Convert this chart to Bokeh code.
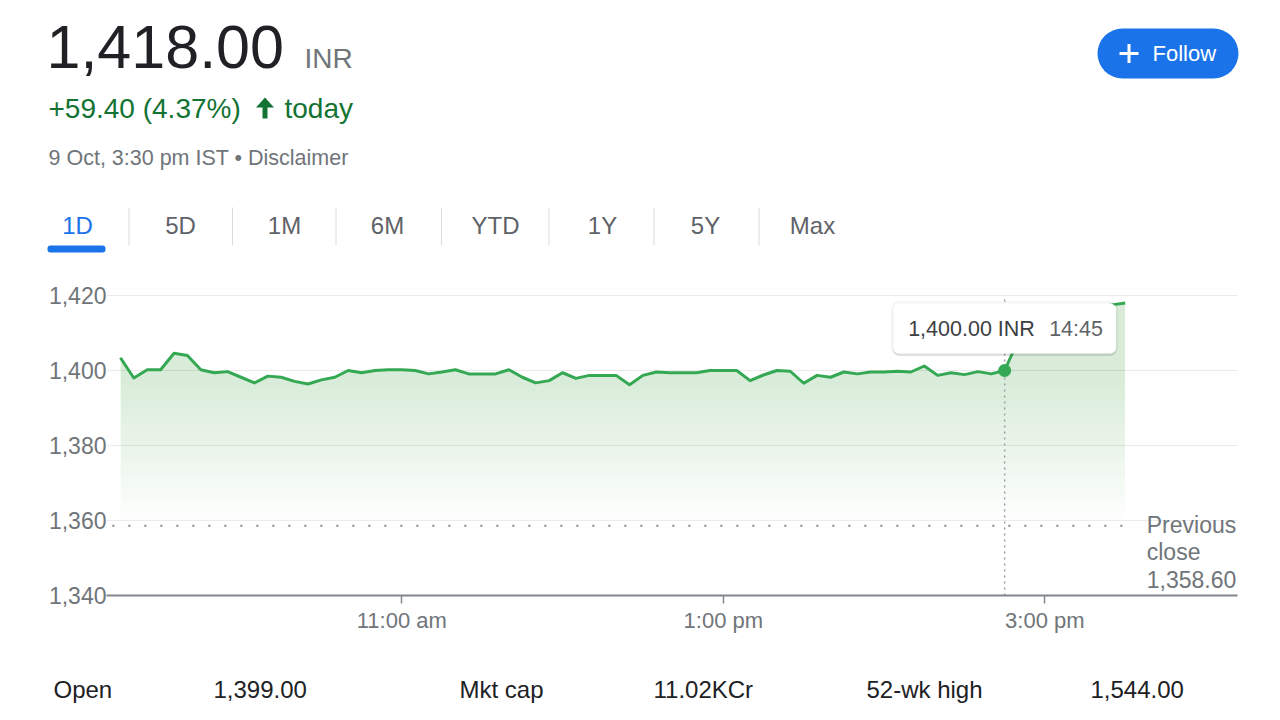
from bokeh.plotting import figure
from bokeh.layouts import column
from bokeh.models import Range1d, FixedTicker, NumeralTickFormatter, ColumnDataSource
from bokeh.embed import file_html
from bokeh.resources import INLINE
from bokeh.core.properties import value

# ---------------- data ----------------
times = [
    "09:15", "09:20", "09:25", "09:30", "09:35", "09:40", "09:45", "09:50", "09:55",
    "10:00", "10:05", "10:10", "10:15", "10:20", "10:25", "10:30", "10:35", "10:40", "10:45", "10:50", "10:55",
    "11:00", "11:05", "11:10", "11:15", "11:20", "11:25", "11:30", "11:35", "11:40", "11:45", "11:50", "11:55",
    "12:00", "12:05", "12:10", "12:15", "12:20", "12:25", "12:30", "12:35", "12:40", "12:45", "12:50", "12:55",
    "13:00", "13:05", "13:10", "13:15", "13:20", "13:25", "13:30", "13:35", "13:40", "13:45", "13:50", "13:55",
    "14:00", "14:05", "14:10", "14:15", "14:20", "14:25", "14:30", "14:35", "14:40", "14:45", "14:50", "14:55",
    "15:00", "15:05", "15:10", "15:15", "15:20", "15:25", "15:30",
]
prices = [
    1403.4, 1398.0, 1400.2, 1400.2, 1404.6, 1404.0, 1400.2, 1399.4, 1399.7,
    1398.2, 1396.7, 1398.5, 1398.2, 1397.1, 1396.4, 1397.5, 1398.2, 1400.0, 1399.4, 1400.0, 1400.2,
    1400.2, 1400.0, 1399.1, 1399.6, 1400.2, 1399.1, 1399.1, 1399.1, 1400.2, 1398.2, 1396.7, 1397.3,
    1399.4, 1397.9, 1398.7, 1398.7, 1398.7, 1396.2, 1398.7, 1399.6, 1399.4, 1399.4, 1399.4, 1400.0,
    1400.0, 1400.0, 1397.3, 1398.8, 1400.0, 1399.8, 1396.6, 1398.7, 1398.2, 1399.6, 1399.1, 1399.6,
    1399.6, 1399.8, 1399.6, 1401.2, 1398.7, 1399.4, 1398.9, 1399.7, 1399.1, 1400.0, 1408.0, 1412.0,
    1414.0, 1415.0, 1416.0, 1416.5, 1417.0, 1417.5, 1418.0,
]
prev_close = 1358.60
hover_time = "14:45"
hover_price = 1400.00
y_ticks = [1340, 1360, 1380, 1400, 1420]
x_tick_times = ["11:00", "13:00", "15:00"]
x_tick_labels = ["11:00 am", "1:00 pm", "3:00 pm"]

price_text = "1,418.00"
currency = "INR"
change_text = "+59.40 (4.37%)"
change_word = "today"
date_text = "9 Oct, 3:30 pm IST \u2022 Disclaimer"
tabs = ["1D", "5D", "1M", "6M", "YTD", "1Y", "5Y", "Max"]
stat_labels = ["Open", "Mkt cap", "52-wk high"]
stat_values = ["1,399.00", "11.02KCr", "1,544.00"]

# ---------------- styles ----------------
FONT = value("Liberation Sans")
GREEN = "#34a853"
DARK = "#202124"
GRAY = "#70757a"
BLUE = "#1a73e8"
W = 1280


def to_min(t):
    h, m = t.split(":")
    return int(h) * 60 + int(m)


xs = [to_min(t) for t in times]
ht = to_min(hover_time)


def blank(height, y0, y1):
    f = figure(width=W, height=height, x_range=Range1d(0, W), y_range=Range1d(y1, y0),
               toolbar_location=None, x_axis_location=None, y_axis_location=None,
               min_border=0, outline_line_color=None, output_backend="svg",
               frame_align=False)
    f.grid.visible = False
    return f


# ---------------- header ----------------
hdr = blank(270, 0, 270)

hdr.text(x=[46], y=[46], text=[price_text], text_font=FONT, text_font_size="61px",
         text_color=DARK, text_baseline="middle")
hdr.text(x=[304], y=[58], text=[currency], text_font=FONT, text_font_size="28px",
         text_color=GRAY, text_baseline="middle")
hdr.text(x=[48], y=[107.5], text=[change_text], text_font=FONT, text_font_size="28px",
         text_color="#137333", text_baseline="middle")
hdr.patch(x=[264.5, 273.5, 267, 267, 262, 262, 255.5], y=[97, 107, 107, 118, 118, 107, 107],
          fill_color="#137333", line_color=None)
hdr.text(x=[284], y=[107.5], text=[change_word], text_font=FONT, text_font_size="28px",
         text_color="#137333", text_baseline="middle")
hdr.text(x=[48], y=[157.5], text=[date_text], text_font=FONT, text_font_size="21.5px",
         text_color=GRAY, text_baseline="middle")

# follow button
hdr.quad(left=[1097], right=[1238], top=[28], bottom=[78], fill_color=BLUE,
         line_color=None, border_radius=25)
hdr.segment(x0=[1119, 1128.5], y0=[53, 43.5], x1=[1138, 1128.5], y1=[53, 62.5],
            line_color="white", line_width=3)
hdr.text(x=[1152], y=[53], text=["Follow"], text_font=FONT, text_font_size="22px",
         text_color="white", text_baseline="middle")

# tabs
tab_x = [77, 180, 284, 387, 495, 602, 705, 812]
tab_colors = [BLUE] + ["#5f6368"] * (len(tabs) - 1)
hdr.text(x=tab_x, y=[224.5] * len(tabs), text=tabs, text_font=FONT, text_font_size="24px",
         text_color=tab_colors, text_align="center", text_baseline="middle")
seps = [(a + b) / 2 for a, b in zip(tab_x[:-1], tab_x[1:])]
hdr.segment(x0=seps, y0=[207] * len(seps), x1=seps, y1=[245] * len(seps),
            line_color="#dadce0", line_width=1)
hdr.quad(left=[47], right=[105], top=[245], bottom=[252], fill_color=BLUE,
         line_color=None, border_radius=3)

# ---------------- chart ----------------
p = figure(width=W, height=380, x_range=Range1d(549.8, 971.9), y_range=Range1d(1340, 1424),
           toolbar_location=None, min_border_left=106, min_border_right=43,
           min_border_top=10, min_border_bottom=55, outline_line_color=None,
           output_backend="svg", frame_align=False)

p.xgrid.grid_line_color = None
p.ygrid.grid_line_color = "#ebebeb"
p.ygrid.grid_line_width = 1
p.ygrid.ticker = FixedTicker(ticks=y_ticks)

p.yaxis.ticker = FixedTicker(ticks=y_ticks)
p.yaxis.formatter = NumeralTickFormatter(format="0,0")
p.yaxis.axis_line_color = None
p.yaxis.major_tick_line_color = None
p.yaxis.major_tick_out = 0
p.yaxis.major_tick_in = 0
p.yaxis.minor_tick_line_color = None
p.yaxis.major_label_standoff = 0
p.yaxis.major_label_text_font = "Liberation Sans"
p.yaxis.major_label_text_font_size = "23px"
p.yaxis.major_label_text_color = GRAY

x_ticks = [to_min(t) for t in x_tick_times]
p.xaxis.ticker = FixedTicker(ticks=x_ticks)
p.xaxis.major_label_overrides = {t: lab for t, lab in zip(x_ticks, x_tick_labels)}
p.xaxis.axis_line_color = "#80868b"
p.xaxis.axis_line_width = 2
p.xaxis.major_tick_line_color = "#80868b"
p.xaxis.major_tick_line_width = 1.5
p.xaxis.major_tick_out = 8
p.xaxis.major_tick_in = 0
p.xaxis.minor_tick_line_color = None
p.xaxis.major_label_standoff = 4
p.xaxis.major_label_text_font = "Liberation Sans"
p.xaxis.major_label_text_font_size = "22px"
p.xaxis.major_label_text_color = GRAY

src = ColumnDataSource(dict(x=xs, y=prices))

# gradient-like fill built from stacked translucent layers
for k in range(19):
    lv = 1360 + 2 * k
    p.varea(x="x", y1=lv, y2="y", source=src, fill_color=GREEN, fill_alpha=0.0115)

# previous close dotted line
p.segment(x0=[xs[0] - 3], y0=[prev_close], x1=[xs[-1] + 4], y1=[prev_close],
          line_color="#80868b", line_width=2, line_dash="2 14")
p.text(x=[xs[-1]], y=[prev_close], text=[f"Previous\nclose\n{prev_close:,.2f}"],
       x_offset=21.5, y_offset=-14, text_font=FONT, text_font_size="23px",
       text_color=GRAY, text_baseline="top", text_line_height=1.06)

# crosshair
p.segment(x0=[ht], y0=[y_ticks[0]], x1=[ht], y1=[y_ticks[-1]],
          line_color="#9aa0a6", line_width=1.5, line_dash="2 4")

p.line(x="x", y="y", source=src, line_color=GREEN, line_width=3, line_join="round")
p.scatter(x=[ht], y=[hover_price], size=13, fill_color=GREEN, line_color=None)

# tooltip
TIP_Y = 1411.2
p.rect(x=[ht], y=[TIP_Y], width=227, height=55, width_units="screen", height_units="screen",
       fill_color="#3c4043", fill_alpha=0.05, line_color=None, border_radius=8)
p.rect(x=[ht], y=[TIP_Y - 0.4], width=224, height=52, width_units="screen", height_units="screen",
       fill_color="#3c4043", fill_alpha=0.12, line_color=None, border_radius=7)
p.rect(x=[ht], y=[TIP_Y], width=223, height=50, width_units="screen", height_units="screen",
       fill_color="white", line_color=None, border_radius=6)
p.text(x=[ht], y=[TIP_Y], text=[f"{hover_price:,.2f} INR"], x_offset=-96.5,
       text_font=FONT, text_font_size="21.5px", text_color="#3c4043", text_baseline="middle")
p.text(x=[ht], y=[TIP_Y], text=[hover_time], x_offset=44.5,
       text_font=FONT, text_font_size="21.5px", text_color="#5f6368", text_baseline="middle")

# ---------------- footer ----------------
ftr = blank(70, 650, 720)
ftr.text(x=[53, 459, 866], y=[689] * 3, text=stat_labels, text_font=FONT,
         text_font_size="24px", text_color=DARK, text_baseline="middle")
ftr.text(x=[213, 653, 1090], y=[689] * 3, text=stat_values, text_font=FONT,
         text_font_size="24px", text_color=DARK, text_baseline="middle")

layout = column(hdr, p, ftr, spacing=0)
open("out.html", "w").write(file_html(layout, INLINE))
